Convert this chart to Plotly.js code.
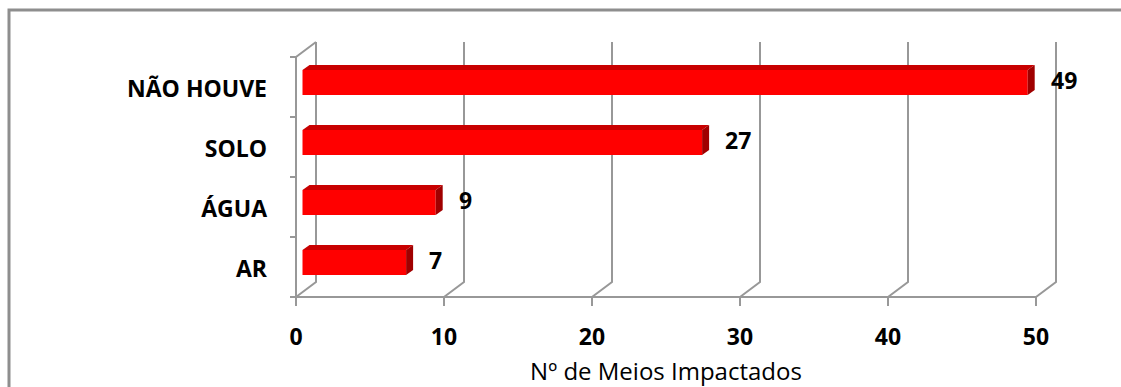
<!DOCTYPE html>
<html>
<head>
<meta charset="utf-8">
<script src="https://cdn.plot.ly/plotly-3.0.1.min.js"></script>
<style>
  html, body { margin: 0; padding: 0; background: #ffffff; }
  #chart { width: 1121px; height: 387px; }
</style>
</head>
<body>
<div id="chart"></div>
<script>
// Number of impacted media, by medium
const categories = ['AR', 'ÁGUA', 'SOLO', 'NÃO HOUVE'];
const counts = [7, 9, 27, 49];
const xTickValues = [0, 10, 20, 30, 40, 50];
const xTitle = 'Nº de Meios Impactados';

// Page geometry, in pixels
const W = 1121, H = 387;
const X0_PX = 296;          // value 0 on the front plane
const PX_PER_UNIT = 14.8;   // horizontal scale
const Y_BOTTOM_PX = 297;    // bottom of the category band on the front plane
const PX_PER_CAT = 60;      // height of one category band
const WALL_DX = 20, WALL_DY = 15;         // depth of the back wall
const BAR_DX = 6.5, BAR_DY = 4.5;         // bar front faces sit this far behind the front plane
const BAR_DEPTH_DX = 7, BAR_DEPTH_DY = 5; // bar thickness
const BAR_FACE_PX = 25;                   // height of a bar front face
const PLOT_L = 274, PLOT_R = 1058, PLOT_T = 36, PLOT_B = 312;

const GRID = '#989898';
const FONT = '"Open Sans", Lato, sans-serif';

// pixel offsets expressed in axis units
const dxU = px => px / PX_PER_UNIT;
const dyU = px => px / PX_PER_CAT;

const xRange = [(PLOT_L - X0_PX) / PX_PER_UNIT, (PLOT_R - X0_PX) / PX_PER_UNIT];
const yRange = [-0.5 - (PLOT_B - Y_BOTTOM_PX) / PX_PER_CAT, -0.5 + (Y_BOTTOM_PX - PLOT_T) / PX_PER_CAT];
const nCat = categories.length;
const catIdx = categories.map((_, i) => i);
const yLow = -0.5, yHigh = nCat - 0.5;

const shapes = [];
const line = (d) => ({ type: 'path', xref: 'x', yref: 'y', layer: 'below', path: d, line: { color: GRID, width: 2 } });

// back-wall gridlines with their floor diagonals
xTickValues.forEach(k => {
  shapes.push(line(`M ${k},${yLow} L ${k + dxU(WALL_DX)},${yLow + dyU(WALL_DY)} L ${k + dxU(WALL_DX)},${yHigh + dyU(WALL_DY)}`));
  // tick marks under the value axis
  shapes.push(line(`M ${k},${yLow} L ${k},${yLow - dyU(9)}`));
});
// left wall edge and value axis
shapes.push(line(`M 0,${yLow} L 0,${yHigh} L ${dxU(WALL_DX)},${yHigh + dyU(WALL_DY)}`));
shapes.push(line(`M 0,${yLow} L ${xTickValues[xTickValues.length - 1]},${yLow}`));
// category boundary ticks
for (let j = 0; j <= nCat; j++) {
  shapes.push(line(`M 0,${j - 0.5} L ${-dxU(6)},${j - 0.5}`));
}

// bar top and end faces
const half = (BAR_FACE_PX / PX_PER_CAT) / 2;
counts.forEach((v, i) => {
  const top = i + half, bot = i - half;
  const ddx = dxU(BAR_DEPTH_DX), ddy = dyU(BAR_DEPTH_DY);
  shapes.push({
    type: 'path', xref: 'x2', yref: 'y2', layer: 'above',
    path: `M 0,${top} L ${v},${top} L ${v + ddx},${top + ddy} L ${ddx},${top + ddy} Z`,
    fillcolor: '#c80000', line: { width: 0 }
  });
  shapes.push({
    type: 'path', xref: 'x2', yref: 'y2', layer: 'above',
    path: `M ${v},${top} L ${v + ddx},${top + ddy} L ${v + ddx},${bot + ddy} L ${v},${bot} Z`,
    fillcolor: '#a00000', line: { width: 0 }
  });
});

// outer frame
shapes.push({
  type: 'rect', xref: 'paper', yref: 'paper', layer: 'below',
  x0: 9 / W, x1: 1.05, y0: -0.1, y1: 1 - 10 / H,
  line: { color: '#8e8e8e', width: 3 }, fillcolor: 'rgba(0,0,0,0)'
});

const annotations = counts.map((v, i) => ({
  xref: 'x2', yref: 'y2', x: v, y: i, text: String(v),
  xanchor: 'left', yanchor: 'middle', xshift: 21, yshift: 2.5,
  showarrow: false,
  font: { family: FONT, size: 23, color: '#000000', weight: 700 }
}));

const data = [{
  type: 'bar', orientation: 'h',
  x: counts, y: catIdx,
  xaxis: 'x2', yaxis: 'y2',
  width: BAR_FACE_PX / PX_PER_CAT,
  marker: { color: '#ff0000', line: { width: 0 } },
  hoverinfo: 'skip'
}];

const layout = {
  width: W, height: H,
  margin: { l: 0, r: 0, t: 0, b: 0, pad: 0 },
  paper_bgcolor: '#ffffff', plot_bgcolor: 'rgba(0,0,0,0)',
  showlegend: false,
  xaxis: {
    domain: [PLOT_L / W, PLOT_R / W], range: xRange, anchor: 'y',
    tickvals: xTickValues, ticks: '', showgrid: false, zeroline: false, showline: false,
    tickfont: { family: FONT, size: 23, color: '#000000', weight: 700 },
    ticklabelstandoff: 9,
    title: { text: xTitle, font: { family: FONT, size: 24, color: '#000000' }, standoff: 12 }
  },
  yaxis: {
    domain: [1 - PLOT_B / H, 1 - PLOT_T / H], range: yRange, anchor: 'x',
    tickvals: catIdx, ticktext: categories, ticks: '',
    showgrid: false, zeroline: false, showline: false,
    tickfont: { family: FONT, size: 23, color: '#000000', weight: 700 },
    ticklabelstandoff: 6, ticklabelshift: 2
  },
  xaxis2: {
    domain: [(PLOT_L + BAR_DX) / W, (PLOT_R + BAR_DX) / W], range: xRange, anchor: 'y2',
    visible: false, fixedrange: true
  },
  yaxis2: {
    domain: [1 - (PLOT_B - BAR_DY) / H, 1 - (PLOT_T - BAR_DY) / H], range: yRange, anchor: 'x2',
    visible: false, fixedrange: true
  },
  shapes: shapes,
  annotations: annotations
};

Plotly.newPlot('chart', data, layout, { displayModeBar: false, staticPlot: true });
</script>
</body>
</html>
